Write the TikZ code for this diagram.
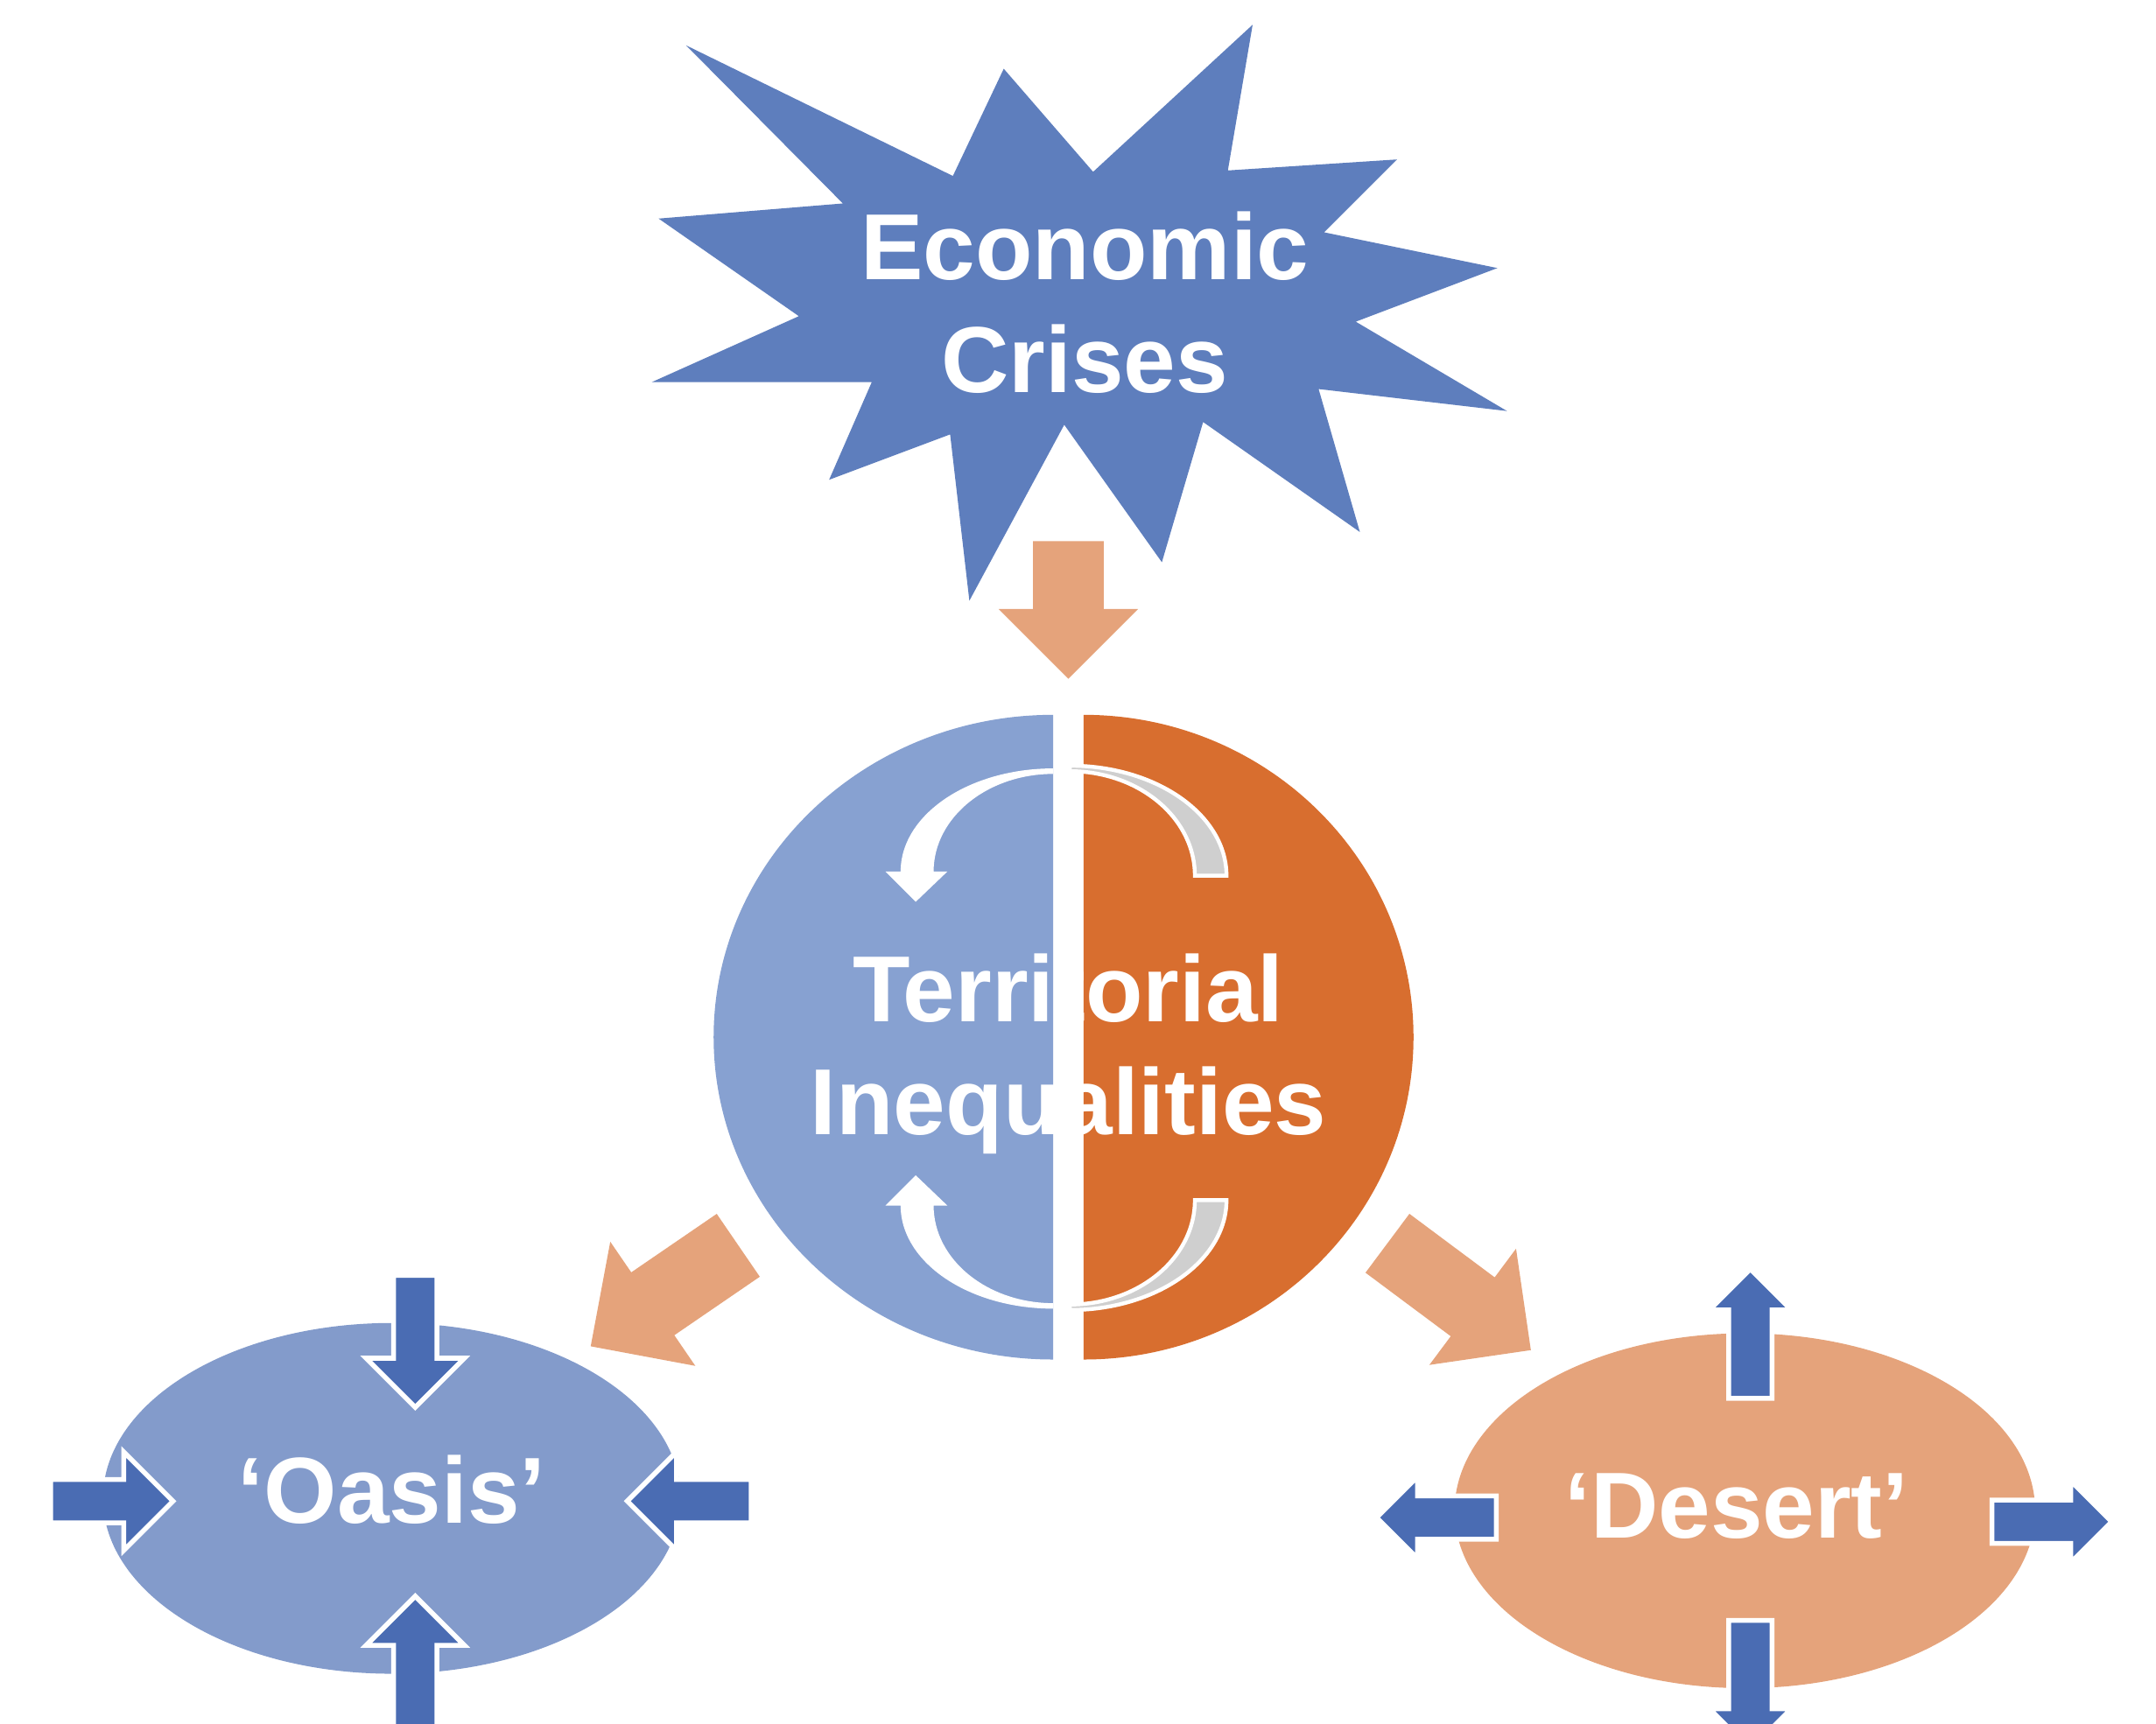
\documentclass[tikz,border=0pt]{standalone}
\usepackage{fontspec}
\setmainfont{Liberation Sans}
\usetikzlibrary{shapes.geometric,shapes.arrows}

\definecolor{burstblue}{HTML}{5E7EBD}
\definecolor{halfblue}{HTML}{87A1D1}
\definecolor{halforange}{HTML}{D86E2F}
\definecolor{peach}{HTML}{E5A37B}
\definecolor{oasisblue}{HTML}{839BCB}
\definecolor{pushblue}{HTML}{4A6CB3}
\definecolor{arcgray}{HTML}{CFCFCF}

\tikzstyle{big text}=[text=white,font=\fontsize{19.4}{23.3}\selectfont\bfseries,align=center,inner sep=0pt]
\tikzstyle{zone}=[ellipse,inner sep=0pt]
\tikzstyle{fat arrow}=[single arrow,inner xsep=0pt,minimum width=0pt,anchor=tail]
\tikzstyle{flow arrow}=[fat arrow,fill=peach]
\tikzstyle{push arrow}=[fat arrow,fill=pushblue,draw=white,line width=1pt,inner ysep=0.14cm]
\tikzstyle{turn arc}=[fill=arcgray,draw=white,line width=0.8pt]

\begin{document}
\begin{tikzpicture}[x=0.01cm,y=-0.01cm]
\useasboundingbox (0,0) rectangle (1568,1254);
\clip (0,0) rectangle (1568,1254);
% the crisis burst
\fill[burstblue] (499,33) -- (613,148) -- (479,159) -- (581,230) -- (474,278) -- (634,278)
  -- (603,349) -- (691,316) -- (705,437) -- (774,309) -- (845,409) -- (875,307)
  -- (989,387) -- (959,283) -- (1096,299) -- (986,234) -- (1089,195) -- (963,169)
  -- (1016,116) -- (893,124) -- (911,18) -- (795,125) -- (730,50) -- (693,128) -- cycle;
\node[big text] (crises) at (789,220) {Economic\\Crises};
\node[flow arrow,inner ysep=0.25cm,single arrow head extend=0.25cm,minimum height=1cm,rotate=-90] (crisisflow) at (777,393) {};

% the split circle
\fill[halfblue] (766,520) .. controls (629.6,520) and (519,625) .. (519,754.5)
  .. controls (519,884) and (629.6,989) .. (766,989) -- cycle;
\fill[halforange] (788,520) .. controls (920.6,520) and (1028,625) .. (1028,754.5)
  .. controls (1028,884) and (920.6,989) .. (788,989) -- cycle;
% turning arrows
\fill[white] (766,559) .. controls (704.7,559) and (655,592.6) .. (655,634) -- (644,634)
  -- (666,656) -- (689,634) -- (679,634) .. controls (679,594.8) and (718,563) .. (766,563) -- cycle;
\fill[white] (766,952) .. controls (704.7,952) and (655,918.4) .. (655,877) -- (644,877)
  -- (666,855) -- (689,877) -- (679,877) .. controls (679,916.2) and (718,948) .. (766,948) -- cycle;
\path[turn arc] (778,557) .. controls (841,557) and (892,592.8) .. (892,637) -- (869,637)
  .. controls (869,595) and (828.3,561) .. (778,561) -- cycle;
\path[turn arc] (778,953) .. controls (841,953) and (892,917.2) .. (892,873) -- (869,873)
  .. controls (869,915) and (828.3,949) .. (778,949) -- cycle;
\node[big text] (inequalities) at (777,766.5) {Territorial\\Inequalities};

% oasis and desert
\node[zone,fill=oasisblue,minimum width=4.2cm,minimum height=2.55cm] (oasis) at (285,1090) {};
\node[zone,fill=peach,minimum width=4.22cm,minimum height=2.58cm] (desert) at (1269,1099) {};
\node[flow arrow,inner ysep=0.27cm,single arrow head extend=0.27cm,minimum height=1.3cm,rotate=214.4] (toleft) at (537.5,905.5) {};
\node[flow arrow,inner ysep=0.26cm,single arrow head extend=0.26cm,minimum height=1.3cm,rotate=-36.7] (toright) at (1008.5,904) {};

% inward and outward pushes
\foreach \where/\x/\y/\ang/\len in {n/302/926/-90/0.96, s/302/1259/90/0.96, w/35/1092/0/0.89, e/548/1092/180/0.9}
  \node[push arrow,single arrow head extend=0.2cm,minimum height=\len cm,rotate=\ang] (oasis-\where) at (\x,\y) {};
\foreach \where/\x/\y/\ang/\len in {n/1273/1019/90/0.94, s/1273/1177/-90/0.94, w/1090/1104/180/0.87, e/1447/1107/0/0.87}
  \node[push arrow,single arrow head extend=0.14cm,minimum height=\len cm,rotate=\ang] (desert-\where) at (\x,\y) {};

\node[big text,anchor=base] (oasistext) at (285,1108) {‘Oasis’};
\node[big text,anchor=base] (deserttext) at (1263,1119) {‘Desert’};
\end{tikzpicture}
\end{document}
